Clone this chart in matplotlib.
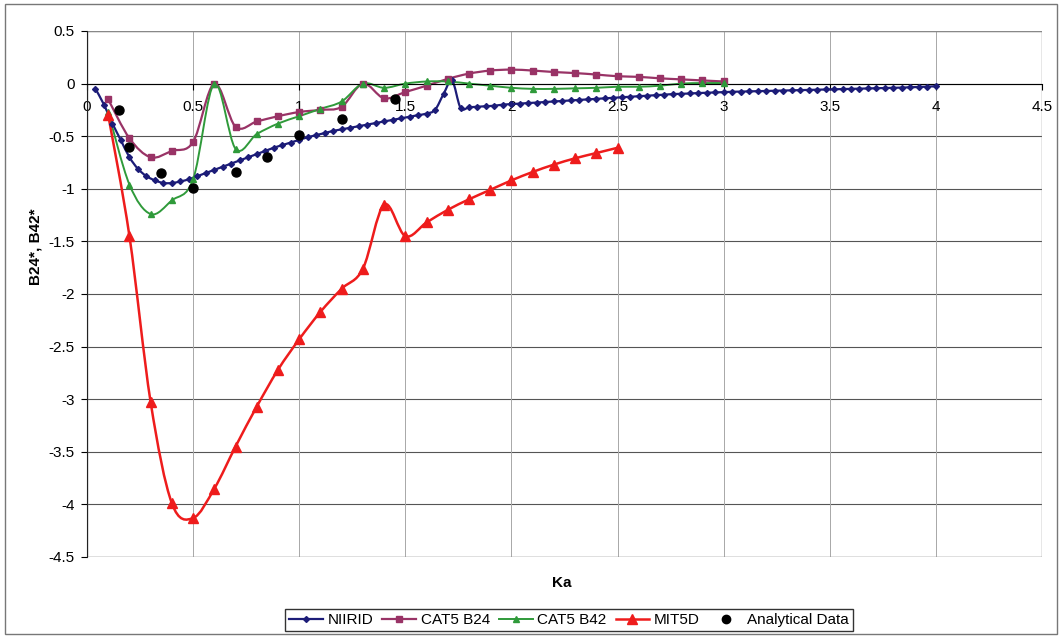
import numpy as np
import matplotlib.pyplot as plt
from matplotlib.path import Path
from matplotlib.patches import PathPatch, Rectangle
from matplotlib.lines import Line2D

plt.rcParams['font.family'] = ['Liberation Sans', 'DejaVu Sans']
plt.rcParams['axes.unicode_minus'] = False

# NIIRID: Ka from 0.04 to 4.0, step 0.04
niirid_x = np.round(np.arange(1, 101) * 0.04, 2)
niirid_y = [-0.05, -0.20, -0.38, -0.54, -0.70, -0.81, -0.88, -0.92, -0.945, -0.945,
            -0.93, -0.91, -0.88, -0.85, -0.82, -0.79, -0.76, -0.73, -0.70, -0.67,
            -0.64, -0.61, -0.585, -0.56, -0.535, -0.51, -0.49, -0.47, -0.45, -0.435,
            -0.42, -0.405, -0.39, -0.375, -0.36, -0.345, -0.33, -0.315, -0.30, -0.285,
            -0.25, -0.10, 0.03, -0.23, -0.225, -0.22, -0.215, -0.21, -0.20, -0.195,
            -0.19, -0.185, -0.18, -0.175, -0.17, -0.165, -0.16, -0.155, -0.15, -0.145,
            -0.14, -0.135, -0.13, -0.125, -0.12, -0.115, -0.11, -0.105, -0.10, -0.097,
            -0.094, -0.09, -0.087, -0.084, -0.081, -0.078, -0.076, -0.074, -0.072, -0.07,
            -0.068, -0.066, -0.064, -0.062, -0.06, -0.058, -0.056, -0.054, -0.052, -0.05,
            -0.048, -0.046, -0.044, -0.042, -0.04, -0.038, -0.035, -0.032, -0.029, -0.025]

# CAT5 runs: Ka from 0.1 to 3.0, step 0.1
cat_x = np.round(np.arange(1, 31) * 0.1, 1)
cat_b24 = [-0.15, -0.52, -0.70, -0.64, -0.555, 0.0, -0.41, -0.36, -0.31, -0.27,
           -0.25, -0.22, 0.0, -0.14, -0.08, -0.02, 0.045, 0.095, 0.124, 0.133,
           0.124, 0.11, 0.10, 0.086, 0.07, 0.064, 0.05, 0.04, 0.03, 0.02]
cat_b42 = [-0.27, -0.96, -1.24, -1.11, -0.91, 0.0, -0.62, -0.48, -0.38, -0.31,
           -0.24, -0.17, 0.0, -0.04, 0.0, 0.02, 0.02, 0.0, -0.02, -0.04,
           -0.05, -0.05, -0.045, -0.04, -0.03, -0.03, -0.02, 0.0, 0.005, 0.005]

# MIT5D: Ka from 0.1 to 2.5
mit_x = np.round(np.arange(1, 26) * 0.1, 1)
mit_y = [-0.30, -1.45, -3.03, -3.99, -4.13, -3.85, -3.45, -3.07, -2.72, -2.43,
         -2.17, -1.95, -1.76, -1.15, -1.45, -1.32, -1.20, -1.10, -1.01, -0.92,
         -0.84, -0.77, -0.71, -0.66, -0.61]

# analytical points
ana_x = [0.15, 0.2, 0.35, 0.5, 0.7, 0.85, 1.0, 1.2, 1.45]
ana_y = [-0.25, -0.60, -0.85, -0.99, -0.84, -0.70, -0.49, -0.34, -0.15]

names = ['NIIRID', 'CAT5 B24', 'CAT5 B42', 'MIT5D', 'Analytical Data']
colors = ['#1c1c78', '#993366', '#2f9a3a', '#ee1c1c', '#000000']


def smooth_line(ax, x, y, **kw):
    # Excel style smoothed line (Catmull-Rom as cubic Bezier, in pixel space)
    pts = ax.transData.transform(np.column_stack([x, y]))
    n = len(pts)
    verts = [pts[0]]
    codes = [Path.MOVETO]
    for i in range(n - 1):
        p0 = pts[max(i - 1, 0)]
        p1 = pts[i]
        p2 = pts[i + 1]
        p3 = pts[min(i + 2, n - 1)]
        verts += [p1 + (p2 - p0) / 6, p2 - (p3 - p1) / 6, p2]
        codes += [Path.CURVE4] * 3
    verts = ax.transData.inverted().transform(np.array(verts))
    ax.add_patch(PathPatch(Path(verts, codes), fill=False, **kw))


fig = plt.figure(figsize=(10.62, 6.36), dpi=100)
ax = fig.add_axes([87 / 1062, 1 - 557 / 636, 955 / 1062, 526 / 636])
ax.set_xlim(0, 4.5)
ax.set_ylim(-4.5, 0.5)

ax.set_xticks(np.arange(0, 4.51, 0.5))
ax.set_yticks(np.arange(-4.5, 0.51, 0.5))
ax.set_xticklabels(['%g' % v for v in np.arange(0, 4.51, 0.5)])
ax.set_yticklabels(['%g' % v for v in np.arange(-4.5, 0.51, 0.5)])
ax.tick_params(axis='x', length=4, pad=8, labelsize=11, direction='out')
ax.tick_params(axis='y', length=4, pad=5, labelsize=11, direction='out')

for v in np.arange(-4.5, 0.51, 0.5):
    ax.axhline(v, color='#555555', lw=0.8, zorder=0)
for v in np.arange(0.5, 4.51, 0.5):
    ax.axvline(v, color='#a8a8a8', lw=0.7, zorder=0)

ax.spines['bottom'].set_position(('data', 0))
ax.spines['top'].set_visible(False)
ax.spines['right'].set_visible(False)
ax.spines['left'].set_color('#222222')
ax.add_patch(Rectangle((0, 0), 1, 1, transform=ax.transAxes, fill=False,
                       ec='#888888', lw=1.0, zorder=0))

smooth_line(ax, niirid_x, niirid_y, ec=colors[0], lw=1.6, zorder=2)
ax.plot(niirid_x, niirid_y, ls='none', marker='D', ms=3, color=colors[0], zorder=3)
smooth_line(ax, cat_x, cat_b24, ec=colors[1], lw=1.6, zorder=2)
ax.plot(cat_x, cat_b24, ls='none', marker='s', ms=4.5, color=colors[1], zorder=3)
smooth_line(ax, cat_x, cat_b42, ec=colors[2], lw=1.4, zorder=2)
ax.plot(cat_x, cat_b42, ls='none', marker='^', ms=4.5, color=colors[2], zorder=3)
smooth_line(ax, mit_x, mit_y, ec=colors[3], lw=1.8, zorder=2)
ax.plot(mit_x, mit_y, ls='none', marker='^', ms=7.5, color=colors[3], zorder=3)
ax.plot(ana_x, ana_y, ls='none', marker='o', ms=6.5, color=colors[4], zorder=4)

fig.text(562 / 1062, 1 - 583 / 636, 'Ka', ha='center', va='center',
         fontsize=11, fontweight='bold')
fig.text(35 / 1062, 1 - 247 / 636, 'B24*, B42*', ha='center', va='center',
         rotation=90, fontsize=11, fontweight='bold')

handles = [
    Line2D([], [], color=colors[0], lw=1.6, marker='D', ms=3),
    Line2D([], [], color=colors[1], lw=1.6, marker='s', ms=4.5),
    Line2D([], [], color=colors[2], lw=1.4, marker='^', ms=4.5),
    Line2D([], [], color=colors[3], lw=1.8, marker='^', ms=7),
    Line2D([], [], color=colors[4], ls='none', marker='o', ms=6),
]
leg = fig.legend(handles, names, loc='center', ncol=5,
                 bbox_to_anchor=(569 / 1062, 1 - 620 / 636), fontsize=11,
                 frameon=True, fancybox=False, edgecolor='black',
                 handlelength=2.2, handletextpad=0.3, columnspacing=0.6,
                 borderpad=0.25)
leg.get_frame().set_linewidth(1.0)

fig.add_artist(Rectangle((0.005, 0.003), 0.99, 0.99, transform=fig.transFigure,
                         fill=False, ec='#777777', lw=1.0))

fig.savefig('out.png', dpi=100)
